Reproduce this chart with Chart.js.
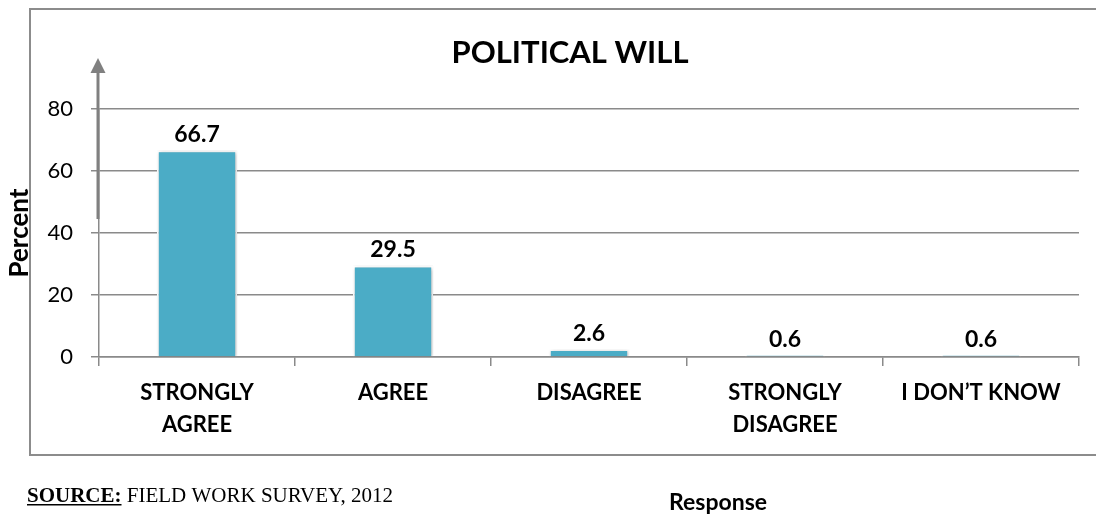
<!DOCTYPE html>
<html>
<head>
<meta charset="utf-8">
<title>Political Will</title>
<script src="https://cdn.jsdelivr.net/npm/chart.js@4.4.1/dist/chart.umd.min.js"></script>
<style>
    html, body { margin: 0; padding: 0; background: #fff; }
    #wrap { width: 1096px; height: 516px; position: relative; }
</style>
</head>
<body>
<div id="wrap"><canvas id="willChart"></canvas></div>
<script>
const categories = [['STRONGLY', 'AGREE'], 'AGREE', 'DISAGREE', ['STRONGLY', 'DISAGREE'], 'I DON\u2019T KNOW'];
const percents = [66.7, 29.5, 2.6, 0.6, 0.6];
const yTickValues = [0, 20, 40, 60, 80];

const titleText = 'POLITICAL WILL';
const xTitleText = 'Response';
const sourceLabel = 'SOURCE:';
const sourceText = ' FIELD WORK SURVEY, 2012';

const gridGray = '#8a8a8a';
const barColor = '#4BACC6';

// soft drop shadow under the bars
const barShadow = {
    id: 'barShadow',
    beforeDatasetsDraw(chart) {
        const ctx = chart.ctx;
        ctx.save();
        ctx.shadowColor = 'rgba(0,0,0,0.28)';
        ctx.shadowBlur = 4;
        ctx.shadowOffsetX = 1;
        ctx.shadowOffsetY = 1;
    },
    afterDatasetsDraw(chart) {
        chart.ctx.restore();
    }
};

// frame, arrow on the value axis, title, value labels and footer texts
const decorations = {
    id: 'decorations',
    afterDraw(chart) {
        const ctx = chart.ctx;
        const area = chart.chartArea;
        const y = chart.scales.y;
        ctx.save();

        // outer frame
        ctx.strokeStyle = '#8c8c8c';
        ctx.lineWidth = 2;
        ctx.strokeRect(30, 9, 1100, 446);

        // arrow along the value axis
        const ax = area.left - 1;
        const arrowBottom = y.getPixelForValue(44.5);
        const tipY = area.top - 51;
        ctx.strokeStyle = '#808080';
        ctx.fillStyle = '#808080';
        ctx.lineWidth = 3;
        ctx.beginPath();
        ctx.moveTo(ax, arrowBottom);
        ctx.lineTo(ax, tipY + 12);
        ctx.stroke();
        ctx.beginPath();
        ctx.moveTo(ax, tipY);
        ctx.lineTo(ax - 7.5, tipY + 15);
        ctx.lineTo(ax + 7.5, tipY + 15);
        ctx.closePath();
        ctx.fill();

        // title
        ctx.fillStyle = '#000';
        ctx.font = 'bold 31px Lato';
        ctx.textAlign = 'center';
        ctx.textBaseline = 'middle';
        ctx.fillText(titleText, 570, 53);

        // value labels above bars
        ctx.font = 'bold 23px Lato';
        ctx.textBaseline = 'bottom';
        chart.getDatasetMeta(0).data.forEach((bar, i) => {
            ctx.fillText(percents[i].toFixed(1), bar.x, bar.y - 4);
        });

        // category axis title
        ctx.font = 'bold 23px Lato';
        ctx.textBaseline = 'middle';
        ctx.fillText(xTitleText, 718, 503);

        // source note
        ctx.textAlign = 'left';
        ctx.textBaseline = 'alphabetic';
        ctx.font = 'bold 21px "Liberation Serif"';
        const sx = 27, sy = 502;
        ctx.fillText(sourceLabel, sx, sy);
        const w = ctx.measureText(sourceLabel).width;
        ctx.fillRect(sx, sy + 2, w, 1.5);
        ctx.font = '21px "Liberation Serif"';
        ctx.fillText(sourceText, sx + w, sy);

        ctx.restore();
    }
};

new Chart(document.getElementById('willChart'), {
    type: 'bar',
    data: {
        labels: categories,
        datasets: [{
            data: percents,
            backgroundColor: barColor,
            borderColor: '#ffffff',
            borderWidth: 2,
            barPercentage: 0.41,
            categoryPercentage: 1
        }]
    },
    options: {
        responsive: true,
        maintainAspectRatio: false,
        animation: false,
        events: [],
        layout: {
            padding: { left: 0, top: 109, right: 17, bottom: 0 }
        },
        plugins: {
            legend: { display: false },
            tooltip: { enabled: false }
        },
        scales: {
            x: {
                offset: true,
                grid: {
                    offset: true,
                    drawOnChartArea: false,
                    drawTicks: true,
                    tickLength: 9,
                    color: gridGray,
                    lineWidth: 1.5
                },
                border: { color: gridGray, width: 1.5 },
                ticks: {
                    color: '#000',
                    padding: 11,
                    maxRotation: 0,
                    autoSkip: false,
                    font: { family: 'Lato', size: 22, weight: 'bold', lineHeight: 1.45 }
                },
                afterFit(scale) { scale.height = 516 - 357; }
            },
            y: {
                min: 0,
                max: 80,
                afterBuildTicks(scale) {
                    scale.ticks = yTickValues.map(v => ({ value: v }));
                },
                grid: {
                    color: gridGray,
                    lineWidth: 1.5,
                    tickLength: 8
                },
                border: { color: gridGray, width: 1.5 },
                ticks: {
                    color: '#000',
                    padding: 18,
                    font: { family: 'Lato', size: 22 }
                },
                title: {
                    display: true,
                    text: 'Percent',
                    color: '#000',
                    padding: { top: 4, bottom: 0 },
                    font: { family: 'Lato', size: 26, weight: 'bold' }
                },
                afterFit(scale) { scale.width = 99; }
            }
        }
    },
    plugins: [barShadow, decorations]
});
</script>
</body>
</html>
